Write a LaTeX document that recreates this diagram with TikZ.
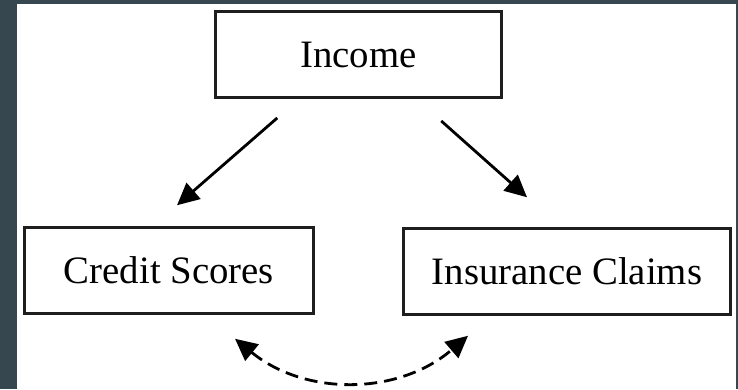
\documentclass[tikz,border=0pt]{standalone}
\usepackage{fontspec}
\setmainfont{Liberation Serif}
\usetikzlibrary{arrows.meta,calc}
\definecolor{frameSlate}{HTML}{37474F}
\definecolor{boxInk}{HTML}{1E1E1E}

\begin{document}
\begin{tikzpicture}[x=1pt,y=1pt,font=\fontsize{38.8}{44}\selectfont,
    box/.style={draw=boxInk,line width=2.5pt,minimum height=86pt,inner sep=0pt},
    link/.style={line width=2.8pt,-{Triangle[length=22pt,width=21pt]}},
    mutual/.style={line width=2.8pt,dash pattern=on 13pt off 7pt,
                   {Triangle[length=22pt,width=21pt]}-{Triangle[length=22pt,width=21pt]}}]
  \fill[frameSlate] (0,0) rectangle (738,-389);
  \fill[white] (17,-4) rectangle (736,-389);
  \useasboundingbox (0,0) rectangle (738,-389);
  \node[box,minimum width=286pt] (inc) at (358.25,-54.7) {Income};
  \node[box,minimum width=289pt] (cs) at (169,-270.5) {Credit Scores};
  \node[box,minimum width=327pt] (ic) at (567,-271.5) {Insurance Claims};
  \draw[link] ([xshift=-81pt,yshift=-19pt]inc.south) -- ([xshift=8pt,yshift=21pt]cs.north);
  \draw[link] ([xshift=83pt,yshift=-22pt]inc.south) -- ([xshift=-40pt,yshift=30pt]ic.north);
  \draw[mutual] ([xshift=66pt,yshift=-24pt]cs.south) to[bend right=40] ([xshift=-99pt,yshift=-20pt]ic.south);
\end{tikzpicture}
\end{document}
